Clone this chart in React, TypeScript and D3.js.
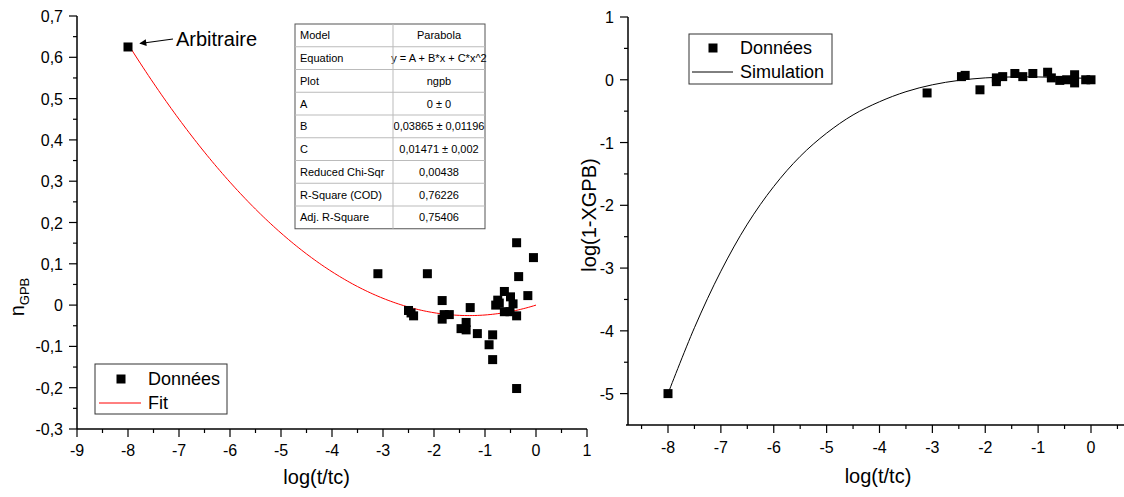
import React from "react";
import * as d3 from "d3";

// ---------- data ----------
const leftX = [-8, -3.1, -2.5, -2.45, -2.4, -2.13, -1.84, -1.84, -1.8, -1.7, -1.37, -1.47, -1.37, -1.29, -1.15, -0.92, -0.85, -0.85, -0.79, -0.75, -0.72, -0.62, -0.62, -0.51, -0.5, -0.45, -0.38, -0.38, -0.38, -0.34, -0.16, -0.05];
const leftY = [0.625, 0.076, -0.013, -0.019, -0.026, 0.076, 0.011, -0.034, -0.023, -0.023, -0.042, -0.057, -0.06, -0.006, -0.069, -0.096, -0.072, -0.132, 0.0, 0.012, 0.005, 0.033, -0.016, -0.016, 0.02, 0.003, 0.151, -0.026, -0.202, 0.069, 0.023, 0.115];
const fitA = 0;
const fitB = 0.03865;
const fitC = 0.01471;

const rightX = [-8, -3.1, -2.45, -2.38, -2.1, -1.79, -1.79, -1.67, -1.44, -1.29, -1.1, -0.82, -0.75, -0.59, -0.46, -0.31, -0.31, -0.1, 0.0];
const rightY = [-5, -0.21, 0.05, 0.07, -0.16, 0.03, -0.03, 0.05, 0.1, 0.05, 0.1, 0.12, 0.03, -0.01, 0.0, 0.08, -0.05, 0.0, 0.0];
const simX = [-8, -7.5, -7, -6.5, -6, -5.5, -5, -4.5, -4, -3.5, -3, -2.5, -2, -1.5, -1, -0.5, 0];
const simY = [-5.0, -3.95, -3.05, -2.3, -1.7, -1.22, -0.85, -0.56, -0.35, -0.19, -0.08, -0.01, 0.03, 0.045, 0.045, 0.035, 0.02];

const leftXTicks = [-9, -8, -7, -6, -5, -4, -3, -2, -1, 0, 1];
const leftYTicks = [-0.3, -0.2, -0.1, 0, 0.1, 0.2, 0.3, 0.4, 0.5, 0.6, 0.7];
const rightXTicks = [-8, -7, -6, -5, -4, -3, -2, -1, 0];
const rightYTicks = [-5, -4, -3, -2, -1, 0, 1];

const tableRows = [
  ["Model", "Parabola"],
  ["Equation", "y = A + B*x + C*x^2"],
  ["Plot", "ngpb"],
  ["A", "0 ± 0"],
  ["B", "0,03865 ± 0,01196"],
  ["C", "0,01471 ± 0,002"],
  ["Reduced Chi-Sqr", "0,00438"],
  ["R-Square (COD)", "0,76226"],
  ["Adj. R-Square", "0,75406"],
];

const FONT = "'Liberation Sans', Arial, Helvetica, sans-serif";
const fmtComma = (v: number) => {
  const r = Math.round(v * 10) / 10;
  if (r === 0) return "0";
  return r.toFixed(1).replace(".", ",");
};

export default function App() {
  // left scales
  const xL = d3.scaleLinear().domain([-9, 1]).range([77, 587]);
  const yL = d3.scaleLinear().domain([-0.3, 0.7]).range([429, 16]);
  // right scales
  const xR = d3.scaleLinear().domain([-8, 0]).range([668, 1091]);
  const yR = d3.scaleLinear().domain([-5.5, 1]).range([425, 17]);

  const fitXs = d3.range(-8, 0.0001, 0.05);
  const fitLine = d3
    .line<number>()
    .x((d) => xL(d))
    .y((d) => yL(fitA + fitB * d + fitC * d * d))(fitXs);

  const simLine = d3
    .line<number>()
    .x((_, i) => xR(simX[i]))
    .y((d) => yR(d))
    .curve(d3.curveCatmullRom)(simY);

  const sq = 9;
  const majorLen = 8;
  const minorLen = 4;

  const leftXMinor = d3.range(-8.5, 1, 1);
  const leftYMinor = d3.range(-0.25, 0.7, 0.1);
  const rightXMinor = d3.range(-8.5, 0.6, 1);
  const rightYMinor = d3.range(-4.5, 1, 1);

  // table geometry
  const tL = 295, tR = 485, tDiv = 393, tTop = 24, rowH = 22.75;

  return (
    <div style={{ position: "fixed", left: 0, top: 0 }}>
      <svg width={1124} height={497} style={{ display: "block", background: "#fff" }} fontFamily={FONT}>
        {/* ---------- LEFT PLOT ---------- */}
        <g>
          {/* axes */}
          <line x1={xL(-9)} x2={xL(1)} y1={yL(-0.3)} y2={yL(-0.3)} stroke="#000" strokeWidth={1.5} />
          <line x1={xL(-9)} x2={xL(-9)} y1={yL(-0.3)} y2={yL(0.7)} stroke="#000" strokeWidth={1.5} />
          {leftXTicks.map((t) => (
            <g key={"lx" + t}>
              <line x1={xL(t)} x2={xL(t)} y1={yL(-0.3)} y2={yL(-0.3) + majorLen} stroke="#000" strokeWidth={1.2} />
              <text x={xL(t)} y={yL(-0.3) + 27} fontSize={16} textAnchor="middle">{String(t)}</text>
            </g>
          ))}
          {leftXMinor.map((t) => (
            <line key={"lxm" + t} x1={xL(t)} x2={xL(t)} y1={yL(-0.3)} y2={yL(-0.3) + minorLen} stroke="#000" strokeWidth={1.2} />
          ))}
          {leftYTicks.map((t) => (
            <g key={"ly" + t}>
              <line x1={xL(-9) - majorLen} x2={xL(-9)} y1={yL(t)} y2={yL(t)} stroke="#000" strokeWidth={1.2} />
              <text x={xL(-9) - 14} y={yL(t) + 6} fontSize={16} textAnchor="end">{fmtComma(t)}</text>
            </g>
          ))}
          {leftYMinor.map((t) => (
            <line key={"lym" + t} x1={xL(-9) - minorLen} x2={xL(-9)} y1={yL(t)} y2={yL(t)} stroke="#000" strokeWidth={1.2} />
          ))}
          {/* axis titles */}
          <text x={xL(-4.3)} y={484} fontSize={20} textAnchor="middle">log(t/tc)</text>
          <text transform={`translate(24, 297) rotate(-90)`} fontSize={20} textAnchor="middle">
            n<tspan fontSize={13} dy={5}>GPB</tspan>
          </text>

          {/* fit curve */}
          <path d={fitLine || ""} fill="none" stroke="#ff0000" strokeWidth={1} />
          {/* data */}
          {leftX.map((x, i) => (
            <rect key={"ld" + i} x={xL(x) - sq / 2} y={yL(leftY[i]) - sq / 2} width={sq} height={sq} fill="#000" />
          ))}

          {/* annotation */}
          <defs>
            <marker id="arrowHead" viewBox="0 0 10 10" refX="9" refY="5" markerWidth="9" markerHeight="7" orient="auto-start-reverse" markerUnits="userSpaceOnUse">
              <path d="M0,0 L10,5 L0,10 z" fill="#000" />
            </marker>
          </defs>
          <line x1={173} y1={39} x2={140} y2={43.5} stroke="#000" strokeWidth={1.2} markerEnd="url(#arrowHead)" />
          <text x={176} y={46} fontSize={20}>Arbitraire</text>

          {/* table */}
          <g fontSize={11}>
            <rect x={tL} y={tTop} width={tR - tL} height={rowH * tableRows.length} fill="#fff" stroke="#555" strokeWidth={1} />
            {tableRows.map((r, i) => (
              <g key={"row" + i}>
                {i > 0 && (
                  <line x1={tL} x2={tR} y1={tTop + rowH * i} y2={tTop + rowH * i} stroke="#bbb" strokeWidth={1} />
                )}
                <text x={tL + 5} y={tTop + rowH * i + rowH / 2 + 4}>{r[0]}</text>
                <text x={(tDiv + tR) / 2} y={tTop + rowH * i + rowH / 2 + 4} textAnchor="middle">{r[1]}</text>
              </g>
            ))}
            <line x1={tDiv} x2={tDiv} y1={tTop} y2={tTop + rowH * tableRows.length} stroke="#bbb" strokeWidth={1} />
          </g>

          {/* legend */}
          <rect x={95} y={364} width={132} height={50} fill="#fff" stroke="#333" strokeWidth={1} />
          <rect x={121 - sq / 2} y={379 - sq / 2} width={sq} height={sq} fill="#000" />
          <text x={148} y={385} fontSize={18}>Données</text>
          <line x1={99} x2={141} y1={403} y2={403} stroke="#ff0000" strokeWidth={1} />
          <text x={148} y={409} fontSize={18}>Fit</text>
        </g>

        {/* ---------- RIGHT PLOT ---------- */}
        <g>
          <line x1={626} x2={1124} y1={yR(-5.5)} y2={yR(-5.5)} stroke="#000" strokeWidth={1.5} />
          <line x1={628} x2={628} y1={yR(-5.5)} y2={yR(1)} stroke="#000" strokeWidth={1.5} />
          {rightXTicks.map((t) => (
            <g key={"rx" + t}>
              <line x1={xR(t)} x2={xR(t)} y1={yR(-5.5)} y2={yR(-5.5) + majorLen} stroke="#000" strokeWidth={1.2} />
              <text x={xR(t)} y={yR(-5.5) + 28} fontSize={16} textAnchor="middle">{String(t)}</text>
            </g>
          ))}
          {rightXMinor.map((t) => (
            <line key={"rxm" + t} x1={xR(t)} x2={xR(t)} y1={yR(-5.5)} y2={yR(-5.5) + minorLen} stroke="#000" strokeWidth={1.2} />
          ))}
          {rightYTicks.map((t) => (
            <g key={"ry" + t}>
              <line x1={628 - majorLen} x2={628} y1={yR(t)} y2={yR(t)} stroke="#000" strokeWidth={1.2} />
              <text x={614} y={yR(t) + 6} fontSize={16} textAnchor="end">{String(t)}</text>
            </g>
          ))}
          {rightYMinor.map((t) => (
            <line key={"rym" + t} x1={628 - minorLen} x2={628} y1={yR(t)} y2={yR(t)} stroke="#000" strokeWidth={1.2} />
          ))}
          <text x={878} y={483} fontSize={20} textAnchor="middle">log(t/tc)</text>
          <text transform={`translate(596, 215) rotate(-90)`} fontSize={20} textAnchor="middle">log(1-XGPB)</text>

          <path d={simLine || ""} fill="none" stroke="#000" strokeWidth={1} />
          {rightX.map((x, i) => (
            <rect key={"rd" + i} x={xR(x) - sq / 2} y={yR(rightY[i]) - sq / 2} width={sq} height={sq} fill="#000" />
          ))}

          {/* legend */}
          <rect x={689} y={34} width={143} height={50} fill="#fff" stroke="#333" strokeWidth={1} />
          <rect x={713 - sq / 2} y={48 - sq / 2} width={sq} height={sq} fill="#000" />
          <text x={740} y={54} fontSize={18}>Données</text>
          <line x1={692} x2={733} y1={72} y2={72} stroke="#000" strokeWidth={1} />
          <text x={740} y={78} fontSize={18}>Simulation</text>
        </g>
      </svg>
    </div>
  );
}
